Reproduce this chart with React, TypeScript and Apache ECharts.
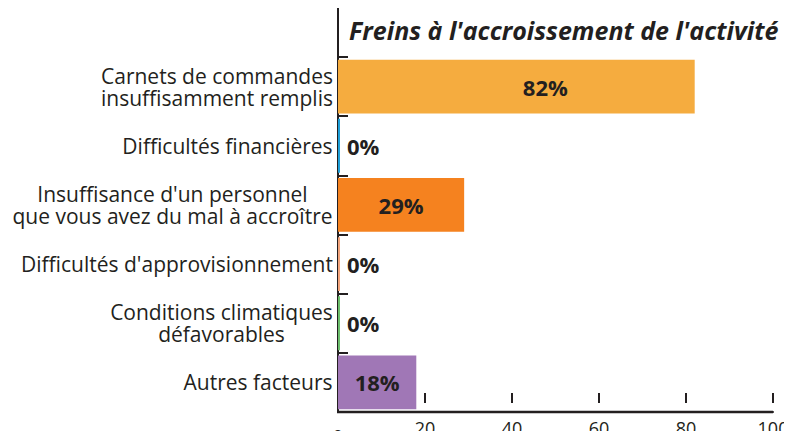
import React, { useEffect, useRef } from "react";
import * as echarts from "echarts";

const categories = [
  "Carnets de commandes\ninsuffisamment remplis",
  "Difficultés financières",
  "Insuffisance d'un personnel\nque vous avez du mal à accroître",
  "Difficultés d'approvisionnement",
  "Conditions climatiques\ndéfavorables",
  "Autres facteurs",
];
const values = [82, 0, 29, 0, 0, 18];
const barColors = ["#F5AC3F", "#1E9FD8", "#F5821F", "#F2A47C", "#6CBE6C", "#A077B6"];
const titleText = "Freins à l'accroissement de l'activité";

const FONT = "'Open Sans', 'Noto Sans', sans-serif";
const INK = "#231f20";
const LABEL_SIZE = 21;

function measure(text: string, size: number): number {
  const c = document.createElement("canvas").getContext("2d");
  if (!c) return text.length * size * 0.5;
  c.font = `${size}px 'Open Sans'`;
  return c.measureText(text).width;
}

export default function App() {
  const ref = useRef<HTMLDivElement>(null);
  useEffect(() => {
    if (!ref.current) return;
    const chart = echarts.init(ref.current, null, { renderer: "svg" });
    const rich: Record<string, any> = {};
    categories.forEach((c, i) => {
      const lines = c.split("\n");
      const w = Math.ceil(Math.max(...lines.map((l) => measure(l, LABEL_SIZE))));
      rich["l" + i] = {
        width: w,
        align: "center",
        fontSize: LABEL_SIZE,
        fontFamily: FONT,
        color: INK,
        lineHeight: 22,
      };
    });
    chart.setOption({
      animation: false,
      title: {
        text: titleText,
        left: 344,
        top: 12,
        textStyle: {
          fontFamily: FONT,
          fontStyle: "italic",
          fontWeight: "bold",
          fontSize: 25,
          color: INK,
        },
      },
      grid: {
        left: 338,
        right: 19,
        top: 57,
        bottom: 27,
        containLabel: false,
        outerBoundsMode: "none",
      },
      xAxis: {
        type: "value",
        min: 0,
        max: 100,
        interval: 20,
        position: "bottom",
        splitLine: { show: false },
        axisLine: { show: true, onZero: false, lineStyle: { color: INK, width: 2 } },
        axisTick: {
          show: true,
          inside: true,
          length: 19,
          lineStyle: { color: INK, width: 2, type: [0, 9, 10, 0] },
        },
        axisLabel: {
          color: INK,
          fontSize: 18,
          fontFamily: FONT,
          margin: 7,
          formatter: (v: number) => (v === 0 ? "{z|0}" : String(v)),
          rich: { z: { padding: [8, 0, 0, 0], fontSize: 18, fontFamily: FONT, color: INK } },
        },
      },
      yAxis: {
        type: "category",
        inverse: true,
        data: categories,
        axisLine: { show: true, lineStyle: { color: INK, width: 2 } },
        axisTick: { show: true, inside: true, length: 10, lineStyle: { color: INK, width: 2 } },
        axisLabel: {
          margin: 5,
          formatter: (v: string, i: number) =>
            v.split("\n").map((l) => `{l${i}|${l}}`).join("\n"),
          rich,
        },
      },
      graphic: [
        {
          type: "line",
          shape: { x1: 338, y1: 8, x2: 338, y2: 57 },
          style: { stroke: INK, lineWidth: 2 },
        },
        {
          type: "line",
          shape: { x1: 337, y1: 412, x2: 773, y2: 412 },
          style: { stroke: INK, lineWidth: 2.5 },
        },
      ],
      series: [
        {
          type: "bar",
          barCategoryGap: "9%",
          barMinHeight: 2,
          data: values.map((v, i) => ({
            value: v,
            itemStyle: { color: barColors[i] },
            label:
              v > 0
                ? { show: true, position: "inside", offset: i === 0 ? [29, 0] : [0, 0] }
                : { show: true, position: "right", distance: 7 },
          })),
          label: {
            show: true,
            formatter: "{c}%",
            fontFamily: FONT,
            fontWeight: "bold",
            fontSize: 22,
            color: INK,
          },
        },
      ],
    });
    return () => chart.dispose();
  }, []);
  return <div ref={ref} style={{ width: 792, height: 439, margin: -8 }} />;
}
